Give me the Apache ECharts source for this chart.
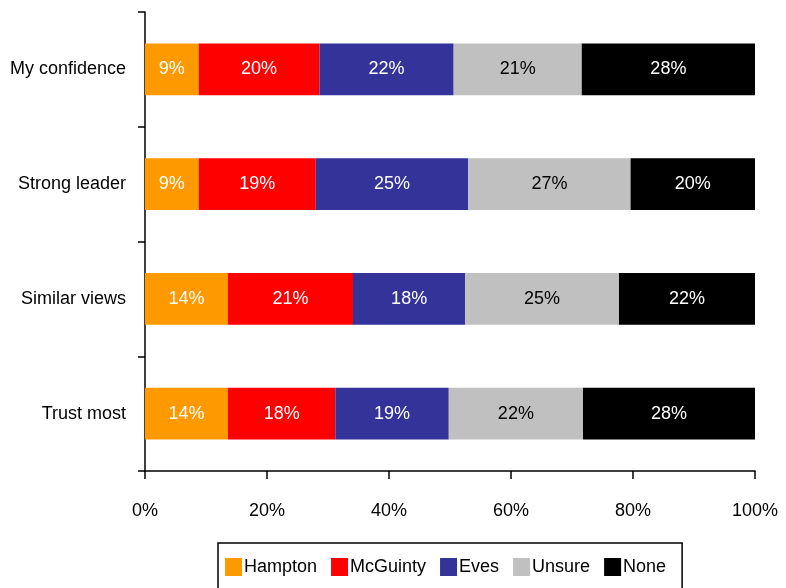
<!DOCTYPE html>
<html><head><meta charset="utf-8">
<script src="https://cdn.jsdelivr.net/npm/echarts@6/dist/echarts.min.js"></script>
<style>html,body{margin:0;padding:0;background:#fff}#c{width:786px;height:588px}</style>
</head><body><div id="c"></div>
<script>
var categories = ['My confidence', 'Strong leader', 'Similar views', 'Trust most'];
var seriesNames = ['Hampton', 'McGuinty', 'Eves', 'Unsure', 'None'];
var hampton  = [8.8, 8.8, 13.6, 13.6];
var mcguinty = [19.8, 19.2, 20.5, 17.6];
var eves     = [22.0, 25.0, 18.4, 18.6];
var unsure   = [21.0, 26.6, 25.2, 22.0];
var none     = [28.4, 20.4, 22.3, 28.2];
var xTicks = [0, 20, 40, 60, 80, 100];
var colors = ['#FF9900', '#FF0000', '#333399', '#C0C0C0', '#000000'];
var labelColors = ['#fff', '#fff', '#fff', '#000', '#fff'];
var FONT = '"Liberation Sans Narrow", "Liberation Sans", Arial, sans-serif';
var FS = 18;

var allData = [hampton, mcguinty, eves, unsure, none];
var chart = echarts.init(document.getElementById('c'));
chart.setOption({
  animation: false,
  textStyle: { fontFamily: FONT },
  grid: { left: 145, right: 31, top: 12, bottom: 117, containLabel: false, outerBoundsMode: 'none' },
  xAxis: {
    type: 'value', min: xTicks[0], max: xTicks[xTicks.length - 1], interval: 20,
    axisLine: { show: true, lineStyle: { color: '#000', width: 1.5 } },
    axisTick: { show: true, length: 8, lineStyle: { color: '#000', width: 1.5 } },
    splitLine: { show: false },
    axisLabel: { formatter: '{value}%', color: '#000', fontSize: FS, margin: 31, fontFamily: FONT }
  },
  yAxis: {
    type: 'category', data: categories, inverse: true,
    axisLine: { show: true, lineStyle: { color: '#000', width: 1.5 } },
    axisTick: { show: true, length: 7, lineStyle: { color: '#000', width: 1.5 } },
    axisLabel: { color: '#000', fontSize: FS, margin: 19, fontFamily: FONT }
  },
  legend: {
    bottom: -4, left: 218,
    data: seriesNames,
    itemWidth: 17, itemHeight: 18, itemGap: 14,
    borderColor: '#000', borderWidth: 1.5,
    padding: [15, 16, 16, 7],
    icon: 'rect',
    textStyle: { fontSize: FS, color: '#000', fontFamily: FONT, padding: [0, 0, 0, -3] }
  },
  series: seriesNames.map(function (n, i) {
    return {
      name: n, type: 'bar', stack: 'total',
      barCategoryGap: '55%',
      data: allData[i],
      itemStyle: { color: colors[i] },
      label: {
        show: true, position: 'inside', color: labelColors[i], fontSize: FS, fontFamily: FONT,
        formatter: function (p) { return Math.round(p.value) + '%'; }
      }
    };
  })
});
</script></body></html>
